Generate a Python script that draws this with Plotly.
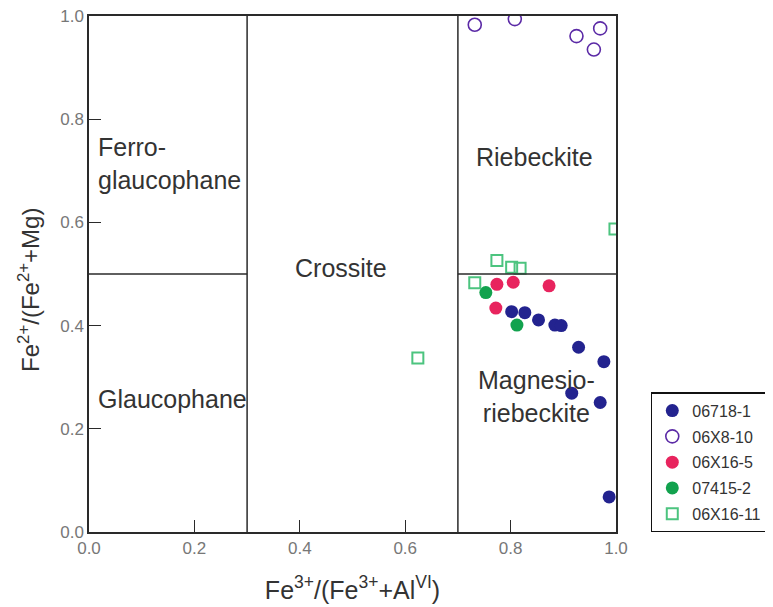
import plotly.graph_objects as go

# Data
s1_x = [0.802, 0.827, 0.853, 0.884, 0.896, 0.929, 0.977, 0.916, 0.970, 0.987]
s1_y = [0.427, 0.425, 0.411, 0.401, 0.400, 0.358, 0.330, 0.269, 0.251, 0.068]

s2_x = [0.732, 0.808, 0.925, 0.970, 0.958]
s2_y = [0.983, 0.994, 0.961, 0.976, 0.935]

s3_x = [0.774, 0.805, 0.873, 0.772]
s3_y = [0.480, 0.484, 0.477, 0.434]

s4_x = [0.753, 0.812]
s4_y = [0.464, 0.401]

s5_x = [0.774, 0.802, 0.818, 0.732, 0.998, 0.624]
s5_y = [0.526, 0.513, 0.511, 0.483, 0.587, 0.337]

names = ["06718-1", "06X8-10", "06X16-5", "07415-2", "06X16-11"]
tick_vals = [0.0, 0.2, 0.4, 0.6, 0.8, 1.0]
tick_text = ["0.0", "0.2", "0.4", "0.6", "0.8", "1.0"]

fig = go.Figure()
fig.add_trace(go.Scatter(x=s1_x, y=s1_y, mode="markers", name=names[0], legendgroup="a",
                         marker=dict(symbol="circle", size=13, color="#23238f")))
fig.add_trace(go.Scatter(x=s2_x, y=s2_y, mode="markers", name=names[1], legendgroup="b",
                         marker=dict(symbol="circle-open", size=13, color="#5b2aa6", line=dict(width=1.6))))
fig.add_trace(go.Scatter(x=s3_x, y=s3_y, mode="markers", name=names[2], legendgroup="c",
                         marker=dict(symbol="circle", size=13, color="#e8245e")))
fig.add_trace(go.Scatter(x=s4_x, y=s4_y, mode="markers", name=names[3], legendgroup="d",
                         marker=dict(symbol="circle", size=13, color="#12a24e")))
fig.add_trace(go.Scatter(x=s5_x, y=s5_y, mode="markers", name=names[4], legendgroup="e",
                         marker=dict(symbol="square-open", size=11, color="#4cc47f", line=dict(width=2))))

line_c = "#2a2a2a"
shape_line = dict(color=line_c, width=1.5)
fig.add_shape(type="line", x0=0.3, x1=0.3, y0=0, y1=1, line=shape_line)
fig.add_shape(type="line", x0=0.7, x1=0.7, y0=0, y1=1, line=shape_line)
fig.add_shape(type="line", x0=0, x1=0.3, y0=0.5, y1=0.5, line=shape_line)
fig.add_shape(type="line", x0=0.7, x1=1.0, y0=0.5, y1=0.5, line=shape_line)

lab_font = dict(family="Liberation Sans", size=25, color="#333333")
labels = [
    (0.013, 0.715, "Ferro-<br>glaucophane", "left"),
    (0.013, 0.258, "Glaucophane", "left"),
    (0.478, 0.512, "Crossite", "center"),
    (0.846, 0.727, "Riebeckite", "center"),
    (0.85, 0.262, "Magnesio-<br>riebeckite", "center"),
]
for x, y, t, al in labels:
    fig.add_annotation(x=x, y=y, text=t, showarrow=False, font=lab_font,
                       xanchor=al, yanchor="middle", align=al, xref="x", yref="y")

title_font = dict(family="Liberation Sans", size=25, color="#333333")
# y-axis title placed as a rotated annotation to match the reference position
fig.add_annotation(x=-0.114, y=0.469, xref="paper", yref="paper",
                   text="Fe<sup>2+</sup>/(Fe<sup>2+</sup>+Mg)", textangle=-90,
                   showarrow=False, font=dict(family="Liberation Sans", size=24, color="#333333"),
                   xanchor="center", yanchor="middle")

axis_common = dict(range=[0, 1], tickvals=tick_vals, ticktext=tick_text,
                   ticks="inside", ticklen=12, tickwidth=1.2, tickcolor=line_c,
                   showline=True, linecolor=line_c, linewidth=1.5, mirror=True,
                   showgrid=False, zeroline=False, automargin=False,
                   ticklabeloverflow="allow",
                   tickfont=dict(family="Liberation Sans", size=17, color="#777777"))

fig.update_layout(
    width=765, height=599,
    margin=dict(l=81, r=157, t=8, b=75, autoexpand=False),
    paper_bgcolor="white", plot_bgcolor="white",
    xaxis=dict(title=dict(text="Fe<sup>3+</sup>/(Fe<sup>3+</sup>+Al<sup>VI</sup>)",
                          font=title_font, standoff=24), **axis_common),
    yaxis=dict(**axis_common),
    legend=dict(x=1.066, y=0.271, xanchor="left", yanchor="top",
                bordercolor="#111111", borderwidth=1.5, bgcolor="white",
                font=dict(family="Liberation Sans", size=16, color="#333333"),
                tracegroupgap=2, entrywidth=130, entrywidthmode="pixels",
                itemwidth=30),
    showlegend=True,
)

fig.write_html("out.html")
